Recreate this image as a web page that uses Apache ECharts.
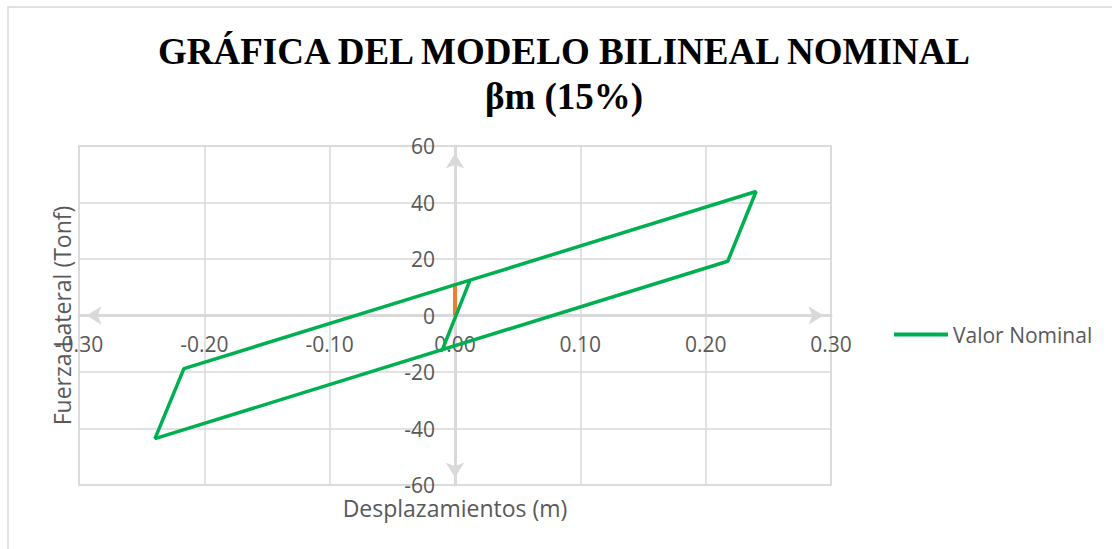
<!DOCTYPE html>
<html>
<head>
<meta charset="utf-8">
<script src="https://cdn.jsdelivr.net/npm/echarts@6/dist/echarts.min.js"></script>
<style>
html,body{margin:0;padding:0;background:#fff;}
#chart{width:1112px;height:549px;}
</style>
</head>
<body>
<div id="chart"></div>
<script>
// Data
const seriesNames = ['Valor Nominal', 'Origen'];
const nominalX = [-0.0098, 0.0120, 0.2402, 0.2176, -0.2394, -0.2163, 0.0120];
const nominalY = [-11.8, 12.5, 43.9, 19.2, -43.6, -18.8, 12.5];
const orangeX = [0.0, 0.0];
const orangeY = [0.0, 11.3];
const xTicks = [-0.30, -0.20, -0.10, 0.00, 0.10, 0.20, 0.30];
const yTicks = [-60, -40, -20, 0, 20, 40, 60];

const pairs = (xs, ys) => xs.map((x, i) => [x, ys[i]]);
const gray = '#d9d9d9';
const textGray = '#595959';
const sans = '"Open Sans", "Noto Sans", sans-serif';

const chart = echarts.init(document.getElementById('chart'), null, {renderer: 'svg'});
chart.setOption({
  animation: false,
  backgroundColor: '#fff',
  title: {
    text: 'GRÁFICA DEL MODELO BILINEAL NOMINAL\nβm (15%)',
    left: 564,
    textAlign: 'center',
    top: 29,
    padding: 0,
    textStyle: {
      fontFamily: '"Liberation Serif", "Times New Roman", serif',
      fontWeight: 'bold',
      fontSize: 37,
      lineHeight: 45,
      color: '#000'
    }
  },
  graphic: [{
    type: 'rect',
    shape: {x: 8, y: 7, width: 1200, height: 600},
    style: {fill: 'none', stroke: gray, lineWidth: 1.5},
    silent: true,
    z: -10
  }],
  legend: {
    data: [{name: seriesNames[0], icon: 'rect'}],
    left: 894,
    top: 324,
    padding: 0,
    itemWidth: 54,
    itemHeight: 4,
    itemGap: 5,
    textStyle: {fontFamily: sans, fontSize: 21, color: textGray}
  },
  grid: {
    left: 79, right: 281, top: 146, bottom: 64,
    outerBoundsMode: 'none',
    containLabel: false,
    show: true, borderColor: gray, borderWidth: 1.5
  },
  xAxis: {
    type: 'value',
    min: xTicks[0], max: xTicks[xTicks.length - 1], interval: 0.1,
    position: 'bottom',
    offset: -169.5,
    name: 'Desplazamientos (m)',
    nameLocation: 'middle',
    nameGap: 181,
    nameTextStyle: {fontFamily: sans, fontSize: 23, color: textGray},
    axisLine: {
      onZero: false,
      symbol: ['arrow', 'arrow'],
      symbolSize: [14, 15],
      symbolOffset: [7.5, -7.5],
      lineStyle: {color: gray, width: 3}
    },
    axisTick: {show: false},
    axisLabel: {
      margin: 18,
      fontFamily: sans, fontSize: 21, color: textGray,
      formatter: v => v.toFixed(2)
    },
    splitLine: {lineStyle: {color: gray, width: 1.5}}
  },
  yAxis: {
    type: 'value',
    min: yTicks[0], max: yTicks[yTicks.length - 1], interval: 20,
    position: 'left',
    offset: -376,
    name: 'Fuerza Lateral (Tonf)',
    nameLocation: 'middle',
    nameGap: 382,
    nameTextStyle: {fontFamily: sans, fontSize: 23, color: textGray},
    axisLine: {
      onZero: false,
      symbol: ['arrow', 'arrow'],
      symbolSize: [14, 15],
      symbolOffset: [7.5, -7.5],
      lineStyle: {color: gray, width: 3}
    },
    axisTick: {show: false},
    axisLabel: {margin: 20, fontFamily: sans, fontSize: 21, color: textGray},
    splitLine: {lineStyle: {color: gray, width: 1.5}}
  },
  series: [
    {
      name: seriesNames[0],
      type: 'line',
      data: pairs(nominalX, nominalY),
      symbol: 'none',
      lineStyle: {color: '#00B050', width: 3.5},
      itemStyle: {color: '#00B050'},
      z: 3
    },
    {
      name: seriesNames[1],
      type: 'line',
      data: pairs(orangeX, orangeY),
      symbol: 'none',
      lineStyle: {color: '#ED7D31', width: 4},
      itemStyle: {color: '#ED7D31'},
      z: 2
    }
  ]
});
</script>
</body>
</html>
